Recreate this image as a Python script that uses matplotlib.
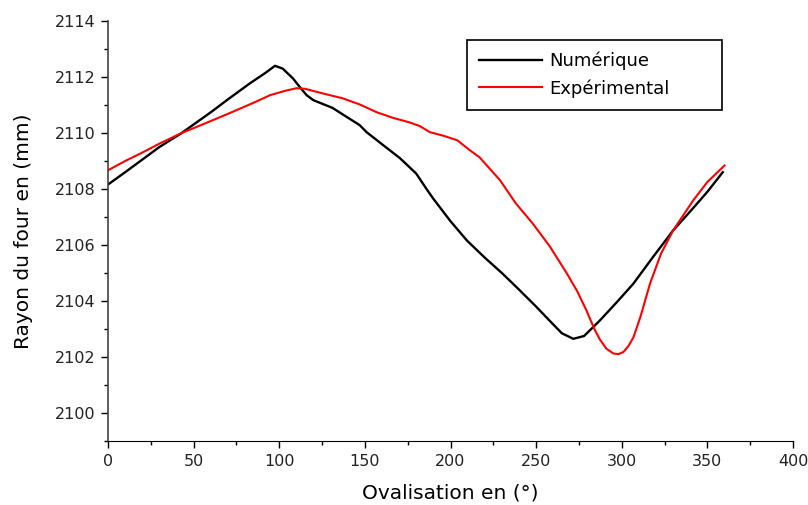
import numpy as np
import matplotlib.pyplot as plt
from matplotlib.ticker import MultipleLocator

plt.rcParams['font.family'] = ['DejaVu Sans']

# Numérique (black)
num_x = [0, 10, 20, 30, 43, 60, 70, 83, 92, 97.5, 102, 108, 112, 116, 120, 131, 140, 147, 151,
         160, 170.5, 180, 186, 190, 200, 209.6, 220, 230, 238.8, 250, 258, 265, 271.7,
         278, 287, 297, 306.8, 318, 330, 340, 350, 359]
num_y = [2108.16, 2108.6, 2109.05, 2109.5, 2110.0, 2110.74, 2111.2, 2111.78, 2112.15, 2112.4,
         2112.3, 2111.95, 2111.64, 2111.35, 2111.17, 2110.9, 2110.55, 2110.28, 2110.03,
         2109.6, 2109.1, 2108.55, 2108.0, 2107.65, 2106.85, 2106.16, 2105.55, 2105.0, 2104.48,
         2103.8, 2103.29, 2102.85, 2102.65, 2102.75, 2103.29, 2103.95, 2104.62, 2105.55,
         2106.52, 2107.2, 2107.9, 2108.6]

# Expérimental (red)
exp_x = [0, 10, 20, 30, 43, 55, 71, 85, 94.6, 103, 110, 115, 125, 137, 147, 157, 166, 176,
         182, 188, 196, 204, 211.4, 217, 229, 238, 248, 258, 268, 274, 279.5, 284, 287.3, 291,
         295, 298, 301, 304, 306.8, 311, 316.5, 323, 330, 341.7, 350, 360]
exp_y = [2108.67, 2109.0, 2109.3, 2109.62, 2110.0, 2110.3, 2110.71, 2111.08, 2111.35, 2111.5,
         2111.6, 2111.58, 2111.42, 2111.24, 2111.02, 2110.74, 2110.55, 2110.38,
         2110.25, 2110.03, 2109.9, 2109.74, 2109.38, 2109.13, 2108.31, 2107.5, 2106.77,
         2105.95, 2104.98, 2104.35, 2103.65, 2103.0, 2102.62, 2102.3, 2102.13, 2102.1, 2102.18,
         2102.4, 2102.7, 2103.45, 2104.62, 2105.7, 2106.52, 2107.59, 2108.25, 2108.84]

fig = plt.figure(figsize=(8.08, 5.05), dpi=100)
ax = fig.add_axes([0.1337, 0.1267, 0.8477, 0.8317])

ax.plot(num_x, num_y, color='black', lw=1.7, label='Numérique')
ax.plot(exp_x, exp_y, color='#ff0000', lw=1.5, label='Expérimental')

ax.set_xlim(0, 400)
ax.set_ylim(2099, 2114)
ax.xaxis.set_major_locator(MultipleLocator(50))
ax.xaxis.set_minor_locator(MultipleLocator(25))
ax.yaxis.set_major_locator(MultipleLocator(2))
ax.yaxis.set_minor_locator(MultipleLocator(1))

for s in ['top', 'right']:
    ax.spines[s].set_visible(False)
ax.spines['left'].set_color('#444444')
ax.spines['left'].set_linewidth(1.2)
ax.spines['bottom'].set_color('black')
ax.tick_params(which='major', direction='out', length=5, width=1, labelsize=11.5,
               labelcolor='#222222', pad=4)
ax.tick_params(which='minor', direction='out', length=3, width=1)

ax.set_xlabel('Ovalisation en (°)', fontsize=14.5, labelpad=11)
ax.set_ylabel('Rayon du four en (mm)', fontsize=14.5, labelpad=16)

leg = ax.legend(loc='upper left',
                bbox_to_anchor=(467 / 808, 1 - 110 / 505, 255 / 808, 70 / 505),
                bbox_transform=fig.transFigure, mode='expand', borderaxespad=0,
                fancybox=False, edgecolor='black', framealpha=1, fontsize=13,
                handlelength=3.5, borderpad=0.65, labelspacing=0.5, handletextpad=0.4)
leg.get_frame().set_linewidth(1.2)

fig.savefig('out.png', dpi=100)
